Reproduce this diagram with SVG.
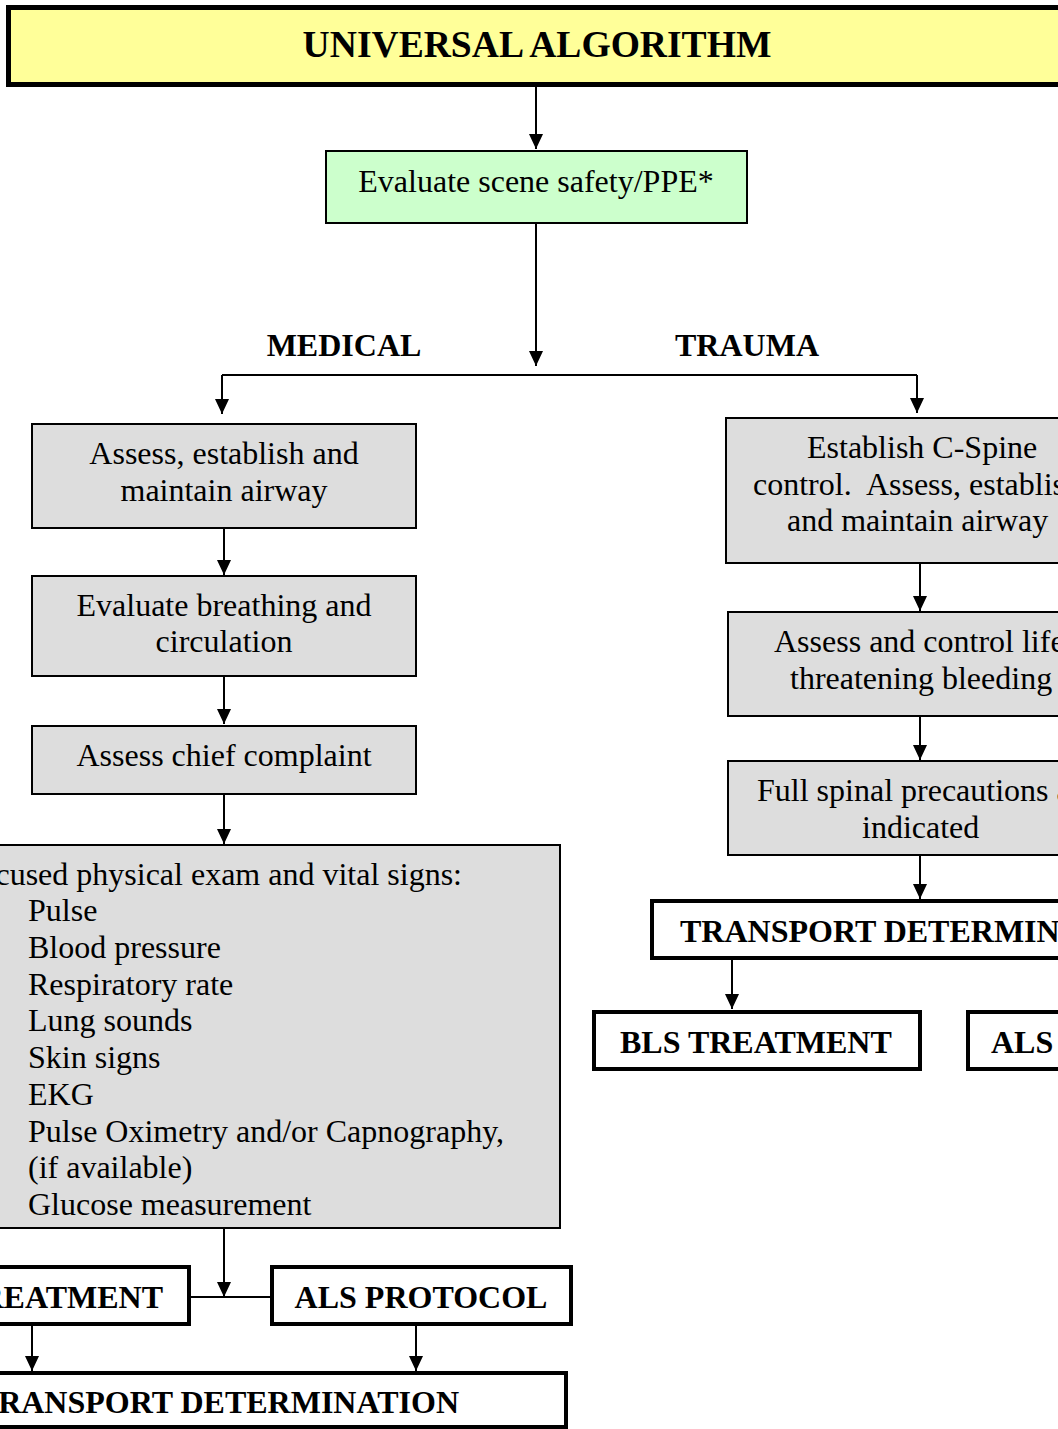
<svg xmlns="http://www.w3.org/2000/svg" width="1058" height="1429" viewBox="0 0 1058 1429">
<defs>
<marker id="arr" viewBox="0 0 15 14" refX="15" refY="7" markerWidth="15" markerHeight="14" markerUnits="userSpaceOnUse" orient="auto">
<path d="M0,0 L15,7 L0,14 z" fill="#000"/>
</marker>
</defs>
<style>
text{font-family:"Liberation Serif","Times New Roman",serif;fill:#000}
.t{font-size:32px}
.b{font-size:32px;font-weight:bold}
.c{text-anchor:middle}
.e{text-anchor:end}
.gray{fill:#DDDDDD;stroke:#000;stroke-width:2}
.thick{fill:#FFFFFF;stroke:#000;stroke-width:4}
.ln{fill:none;stroke:#000;stroke-width:2}
.ar{fill:none;stroke:#000;stroke-width:2;marker-end:url(#arr)}
</style>
<rect width="1058" height="1429" fill="#FFFFFF"/>

<g id="connectors">
<line class="ar" x1="536" y1="87" x2="536" y2="149"/>
<line class="ar" x1="536" y1="223" x2="536" y2="366"/>
<polyline class="ar" points="222,375 222,414"/>
<polyline class="ar" points="917,375 917,413"/>
<line class="ln" x1="222" y1="375" x2="917" y2="375"/>
<line class="ar" x1="224" y1="528" x2="224" y2="575"/>
<line class="ar" x1="224" y1="676" x2="224" y2="724"/>
<line class="ar" x1="224" y1="794" x2="224" y2="844"/>
<line class="ar" x1="224" y1="1228" x2="224" y2="1297"/>
<line class="ln" x1="189" y1="1297" x2="272" y2="1297"/>
<line class="ar" x1="32" y1="1325" x2="32" y2="1371"/>
<line class="ar" x1="416" y1="1325" x2="416" y2="1371"/>
<line class="ar" x1="920" y1="563" x2="920" y2="611"/>
<line class="ar" x1="920" y1="716" x2="920" y2="760"/>
<line class="ar" x1="920" y1="855" x2="920" y2="899"/>
<line class="ar" x1="732" y1="958" x2="732" y2="1009"/>
</g>

<g id="title">
<rect x="8.5" y="7.5" width="1100" height="77" fill="#FFFF99" stroke="#000" stroke-width="5"/>
<text class="c" x="537" y="57" style="font-size:37.6px;font-weight:bold">UNIVERSAL ALGORITHM</text>
</g>

<g id="scene">
<rect x="326" y="151" width="421" height="72" fill="#CCFFCC" stroke="#000" stroke-width="2"/>
<text class="t c" x="536" y="192">Evaluate scene safety/PPE*</text>
</g>

<g id="label-medical"><text class="b c" x="344" y="356">MEDICAL</text></g>
<g id="label-trauma"><text class="b c" x="747" y="356">TRAUMA</text></g>

<g id="m-airway">
<rect class="gray" x="32" y="424" width="384" height="104"/>
<text class="t c" x="224" y="464">Assess, establish and</text>
<text class="t c" x="224" y="501">maintain airway</text>
</g>

<g id="m-breathing">
<rect class="gray" x="32" y="576" width="384" height="100"/>
<text class="t c" x="224" y="616">Evaluate breathing and</text>
<text class="t c" x="224" y="652">circulation</text>
</g>

<g id="m-complaint">
<rect class="gray" x="32" y="726" width="384" height="68"/>
<text class="t c" x="224" y="766">Assess chief complaint</text>
</g>

<g id="m-exam">
<rect class="gray" x="-40" y="845" width="600" height="383"/>
<text class="t e" x="462" y="885">Focused physical exam and vital signs:</text>
<text class="t" x="28" y="921">Pulse</text>
<text class="t" x="28" y="958">Blood pressure</text>
<text class="t" x="28" y="995">Respiratory rate</text>
<text class="t" x="28" y="1031">Lung sounds</text>
<text class="t" x="28" y="1068">Skin signs</text>
<text class="t" x="28" y="1105">EKG</text>
<text class="t" x="28" y="1142">Pulse Oximetry and/or Capnography,</text>
<text class="t" x="28" y="1178">(if available)</text>
<text class="t" x="28" y="1215">Glucose measurement</text>
</g>

<g id="m-bls">
<rect class="thick" x="-100" y="1267" width="289" height="57"/>
<text class="b e" x="163" y="1308">BLS TREATMENT</text>
</g>

<g id="m-als">
<rect class="thick" x="272" y="1267" width="299" height="57"/>
<text class="b c" x="421" y="1308">ALS PROTOCOL</text>
</g>

<g id="m-transport">
<rect class="thick" x="-100" y="1373" width="666" height="54"/>
<text class="b e" x="459" y="1413">TRANSPORT DETERMINATION</text>
</g>

<g id="t-spine">
<rect class="gray" x="726" y="418" width="400" height="145"/>
<text class="t" x="807" y="458">Establish C-Spine</text>
<text class="t" x="753" y="495" xml:space="preserve">control.  Assess, establish</text>
<text class="t" x="787" y="531">and maintain airway</text>
</g>

<g id="t-bleeding">
<rect class="gray" x="728" y="612" width="400" height="104"/>
<text class="t" x="774" y="652">Assess and control life-</text>
<text class="t" x="790" y="689">threatening bleeding</text>
</g>

<g id="t-spinal">
<rect class="gray" x="728" y="761" width="400" height="94"/>
<text class="t" x="757" y="801">Full spinal precautions as</text>
<text class="t" x="862" y="838">indicated</text>
</g>

<g id="t-transport">
<rect class="thick" x="652" y="901" width="500" height="57"/>
<text class="b" x="680" y="942">TRANSPORT DETERMINATION</text>
</g>

<g id="t-bls">
<rect class="thick" x="594" y="1012" width="326" height="57"/>
<text class="b" x="620" y="1053">BLS TREATMENT</text>
</g>

<g id="t-als">
<rect class="thick" x="968" y="1012" width="300" height="57"/>
<text class="b" x="991" y="1053">ALS PROTOCOL</text>
</g>
</svg>
